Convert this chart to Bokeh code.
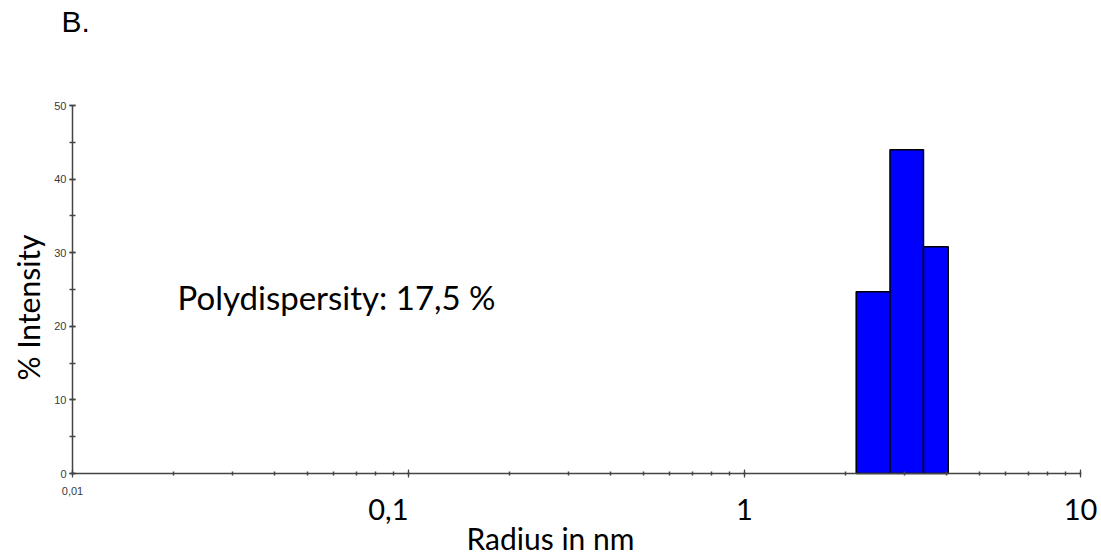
import math
from bokeh.plotting import figure
from bokeh.models import Range1d, LogTicker, SingleIntervalTicker, Label
from bokeh.embed import file_html
from bokeh.resources import INLINE

# Data
bin_edges = [2.15, 2.71, 3.41, 4.04]          # radius (nm), log-spaced bins
intensity = [24.7, 44.0, 30.8]                 # % intensity per bin
x_small_tick = [0.01]
x_small_label = ["0,01"]
x_big_ticks = [0.1, 1, 10]
x_big_labels = ["0,1", "1", "10"]

W, H = 1101, 554
# plot-area geometry (pixels in the canvas)
L, R, T, B = 72, 1080, 105, 473
XMIN, XMAX, YMIN, YMAX = 0.01, 10.0, 0.0, 50.0
ppd = (R - L) / (math.log10(XMAX) - math.log10(XMIN))
x0 = 10 ** (math.log10(XMIN) - L / ppd)
x1 = 10 ** (math.log10(XMAX) + (W - R) / ppd)
ppu = (B - T) / (YMAX - YMIN)
y0 = YMIN - (H - B) / ppu
y1 = YMAX + T / ppu

def xd(px):
    return 10 ** (math.log10(XMIN) + (px - L) / ppd)

def yd(py):
    return YMIN + (B - py) / ppu

p = figure(width=W, height=H, x_axis_type="log", output_backend="svg",
           toolbar_location=None,
           x_range=Range1d(x0, x1), y_range=Range1d(y0, y1), min_border=0)
p.outline_line_color = None
p.xgrid.visible = False
p.ygrid.visible = False
p.background_fill_color = "white"
p.border_fill_color = "white"

p.quad(left=bin_edges[:-1], right=bin_edges[1:], bottom=0, top=intensity,
       fill_color="#0000FF", line_color="black", line_width=1.5)

# x axis
xa = p.xaxis[0]
xa.fixed_location = YMIN
xa.bounds = (XMIN, XMAX)
xa.ticker = LogTicker(desired_num_ticks=4, num_minor_ticks=10)
xa.major_label_text_font_size = "0px"
xa.major_label_text_alpha = 0
xa.axis_line_color = "#444444"
xa.axis_line_width = 1.5
xa.major_tick_in = 4
xa.major_tick_out = 4
xa.minor_tick_in = 2
xa.minor_tick_out = 2
xa.major_tick_line_color = "#444444"
xa.minor_tick_line_color = "#444444"
xa.major_tick_line_width = 1.2
xa.minor_tick_line_width = 1.5

# y axis
ya = p.yaxis[0]
ya.fixed_location = XMIN
ya.bounds = (YMIN, YMAX)
ya.ticker = SingleIntervalTicker(interval=10, num_minor_ticks=2)
ya.major_label_text_font = "Liberation Sans"
ya.major_label_text_font_size = "11px"
ya.major_label_text_color = "#3a3a3a"
ya.major_label_standoff = 3
ya.axis_line_color = "#444444"
ya.axis_line_width = 1.5
ya.major_tick_in = 3
ya.major_tick_out = 3
ya.minor_tick_in = 3
ya.minor_tick_out = 3
ya.major_tick_line_color = "#444444"
ya.minor_tick_line_color = "#444444"
ya.major_tick_line_width = 1.5
ya.minor_tick_line_width = 1.5

# Small x tick label
for v, t in zip(x_small_tick, x_small_label):
    p.add_layout(Label(x=v, y=yd(490), text=t, text_align="center", text_baseline="middle",
                       text_font="Liberation Sans", text_font_size="11px",
                       text_color="#3a3a3a"))

# Large x tick labels
aligns = ["right", "center", "center"]
for v, t, a in zip(x_big_ticks, x_big_labels, aligns):
    p.add_layout(Label(x=v, y=yd(509), text=t, text_align=a, text_baseline="middle",
                       text_font="Lato", text_font_size="29px", text_color="black"))

# Axis titles and annotations
p.add_layout(Label(x=xd(550), y=yd(537), text="Radius in nm", text_align="center",
                   text_baseline="middle", text_font="Lato", text_font_size="30px",
                   text_color="black"))
p.add_layout(Label(x=xd(27), y=yd(307), text="% Intensity", text_align="center",
                   text_baseline="middle", angle=math.pi / 2, text_font="Lato",
                   text_font_size="30px", text_color="black"))
p.add_layout(Label(x=xd(177), y=yd(296.5), text="Polydispersity: 17,5 %", text_align="left",
                   text_baseline="middle", text_font="Lato", text_font_size="33px",
                   text_color="black"))
p.add_layout(Label(x=xd(61), y=yd(21), text="B.", text_align="left",
                   text_baseline="middle", text_font="Liberation Sans",
                   text_font_size="30px", text_color="black"))

open("out.html", "w").write(file_html(p, INLINE))
